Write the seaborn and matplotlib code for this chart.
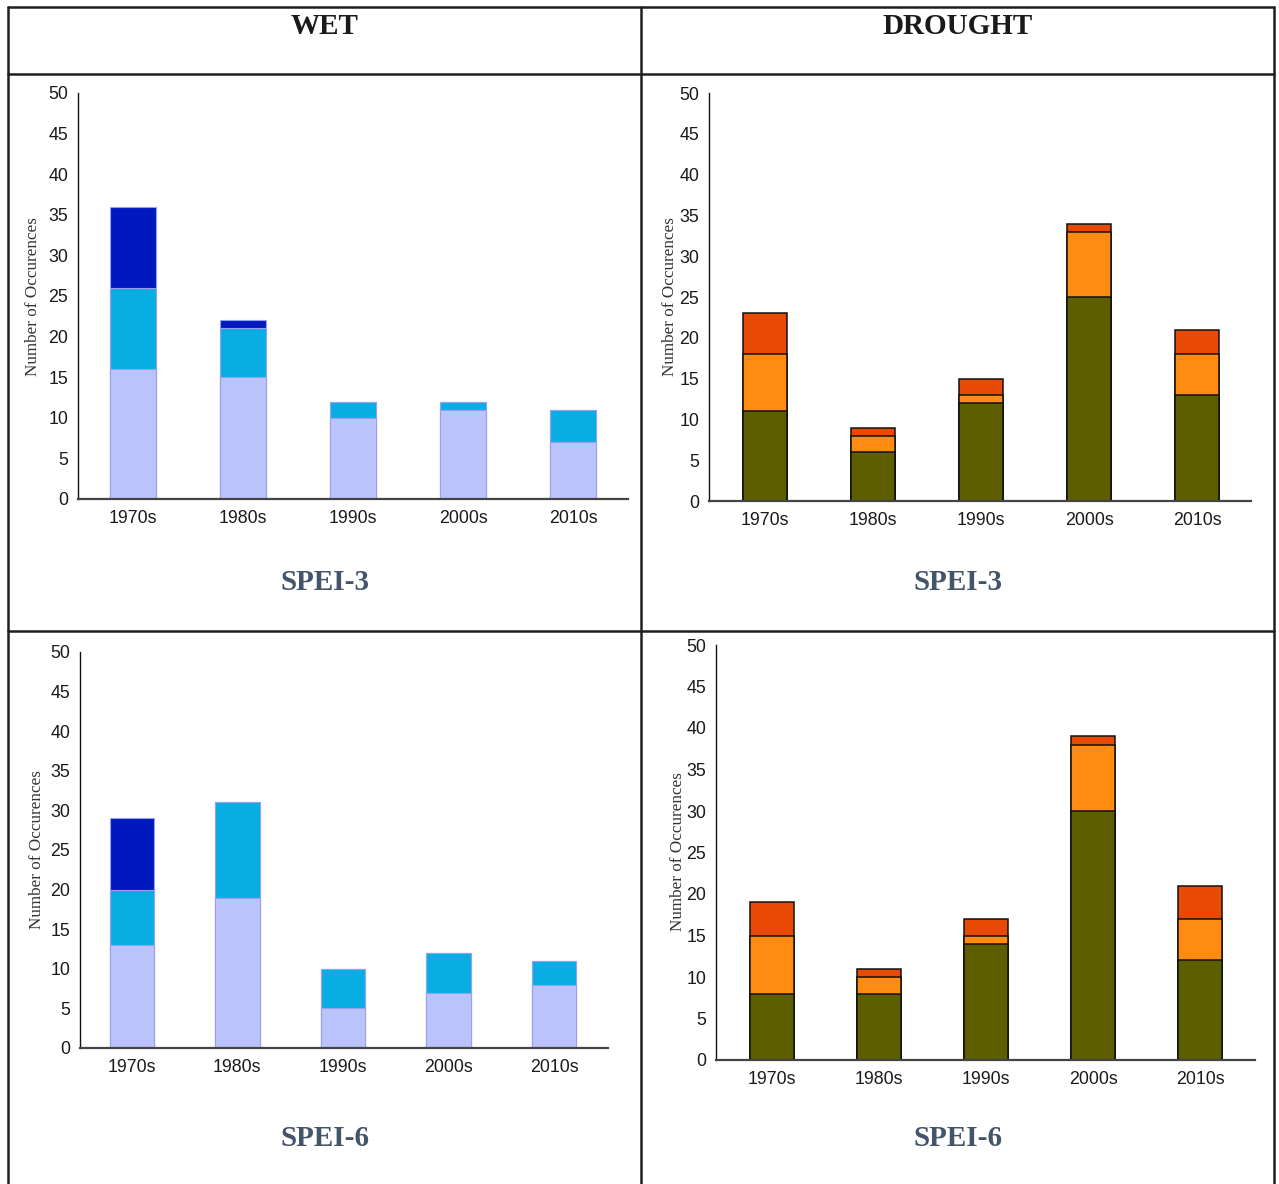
import matplotlib
matplotlib.use("Agg")
import matplotlib.pyplot as plt
from matplotlib.lines import Line2D
import seaborn as sns
import numpy as np
import pandas as pd

sns.set_theme(style="white")
plt.rcParams['font.family'] = ['Liberation Sans', 'DejaVu Sans']

decades = ["1970s", "1980s", "1990s", "2000s", "2010s"]

# WET, SPEI-3 (bottom -> top)
wet3_moderate = [16, 15, 10, 11, 7]
wet3_severe = [10, 6, 2, 1, 4]
wet3_extreme = [10, 1, 0, 0, 0]
# DROUGHT, SPEI-3
dry3_moderate = [11, 6, 12, 25, 13]
dry3_severe = [7, 2, 1, 8, 5]
dry3_extreme = [5, 1, 2, 1, 3]
# WET, SPEI-6
wet6_moderate = [13, 19, 5, 7, 8]
wet6_severe = [7, 12, 5, 5, 3]
wet6_extreme = [9, 0, 0, 0, 0]
# DROUGHT, SPEI-6
dry6_moderate = [8, 8, 14, 30, 12]
dry6_severe = [7, 2, 1, 8, 5]
dry6_extreme = [4, 1, 2, 1, 4]

column_titles = ["WET", "DROUGHT"]
row_titles = ["SPEI-3", "SPEI-6"]
y_label = "Number of Occurences"
y_ticks = [0, 5, 10, 15, 20, 25, 30, 35, 40, 45, 50]

wet_colors = ["#BBC3FC", "#08AEE3", "#0019BF"]
dry_colors = ["#5C5E00", "#FF8C11", "#E84A04"]

W, H = 1279, 1184
fig = plt.figure(figsize=(W / 100, H / 100), dpi=100)


def rect(l, r, t, b):
    return [l / W, 1 - b / H, (r - l) / W, (b - t) / H]


def stacked(ax, layers, colors, width, edge, lw):
    cum = np.cumsum(np.array(layers), axis=0)
    for i in range(len(layers) - 1, -1, -1):
        df = pd.DataFrame({"decade": decades, "value": cum[i]})
        sns.barplot(data=df, x="decade", y="value", ax=ax, color=colors[i],
                    width=width, edgecolor=edge, linewidth=lw, saturation=1,
                    errorbar=None)


panels = [
    # (layers, colors, rect, xlim, width, edge, lw, ylabel_xy)
    ([wet3_moderate, wet3_severe, wet3_extreme], wet_colors,
     rect(78, 628, 93, 499), (-0.5, 4.5), 0.42, "#9AA0F0", 0.8, (33, 297)),
    ([dry3_moderate, dry3_severe, dry3_extreme], dry_colors,
     rect(709, 1251, 93, 501), (-0.52, 4.5), 0.41, "#111111", 1.1, (670, 297)),
    ([wet6_moderate, wet6_severe, wet6_extreme], wet_colors,
     rect(80, 608, 652, 1048), (-0.49, 4.51), 0.42, "#9AA0F0", 0.8, (37, 850)),
    ([dry6_moderate, dry6_severe, dry6_extreme], dry_colors,
     rect(716, 1255, 645, 1060), (-0.52, 4.51), 0.41, "#111111", 1.1, (678, 852)),
]

for layers, colors, r, xlim, width, edge, lw, ylxy in panels:
    ax = fig.add_axes(r)
    stacked(ax, layers, colors, width, edge, lw)
    ax.set_xlim(*xlim)
    ax.set_ylim(0, 50)
    ax.set_yticks(y_ticks)
    ax.set_xlabel("")
    ax.set_ylabel("")
    ax.tick_params(axis="both", length=0, labelsize=12.8, colors="#1a1a1a")
    ax.tick_params(axis="y", pad=7)
    ax.tick_params(axis="x", pad=8)
    for s in ["top", "right"]:
        ax.spines[s].set_visible(False)
    ax.spines["left"].set_color("#111111")
    ax.spines["left"].set_linewidth(1.0)
    ax.spines["bottom"].set_color("#444444")
    ax.spines["bottom"].set_linewidth(1.6)
    ax.set_facecolor("white")
    fig.text(ylxy[0] / W, 1 - ylxy[1] / H, y_label, rotation=90,
             ha="center", va="center", fontsize=12.3, color="#333333",
             family=["Liberation Serif", "DejaVu Serif"])

# table grid
lc = "#231F20"
lines = [
    ((8, 8), (7, H)), ((1274, 1274), (7, H)), ((641, 641), (7, H)),
    ((8, 1274), (7, 7)), ((8, 1274), (74, 74)), ((8, 1274), (631, 631)),
]
for xs, ys in lines:
    fig.add_artist(Line2D([x / W for x in xs], [1 - y / H for y in ys],
                          color=lc, linewidth=1.8, transform=fig.transFigure))

for cx, t in zip([325, 958], column_titles):
    fig.text(cx / W, 1 - 26 / H, t, ha="center", va="center", fontsize=21,
             fontweight="bold", color="#1a1a1a",
             family=["Liberation Serif", "DejaVu Serif"])
for cy, t in zip([583, 1139], row_titles):
    for cx in [325, 958]:
        fig.text(cx / W, 1 - cy / H, t, ha="center", va="center", fontsize=21,
                 fontweight="bold", color="#44546A",
                 family=["Liberation Serif", "DejaVu Serif"])

fig.savefig("out.png", dpi=100, facecolor="white")
